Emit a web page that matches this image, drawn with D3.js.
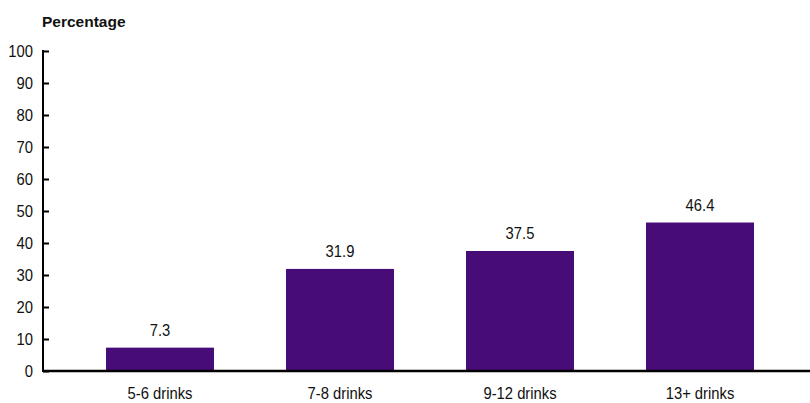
<!DOCTYPE html>
<html><head><meta charset="utf-8">
<script src="https://cdn.jsdelivr.net/npm/d3@7"></script>
<style>body{margin:0;background:#fff}svg{display:block}text{font-family:"Liberation Sans",Arial,sans-serif}</style>
</head><body>
<svg id="c" width="810" height="403"></svg>
<script>
const categories = ["5-6 drinks","7-8 drinks","9-12 drinks","13+ drinks"];
const values = [7.3,31.9,37.5,46.4];
const yTicks = [0,10,20,30,40,50,60,70,80,90,100];
const yTitle = "Percentage";

const SX = 0.87, FS = 17;
const svg = d3.select("#c");
const x = d3.scaleBand().domain(categories).range([70,790]).paddingInner(0.4).paddingOuter(0.2);
const y = d3.scaleLinear().domain([0,100]).range([371,51]);

function narrow(sel, px, py){
  sel.attr("transform",(d,i)=>`translate(${px(d,i)},${py(d,i)}) scale(${SX},1)`);
}

// bars
svg.selectAll("rect.bar").data(values).join("rect")
  .attr("class","bar")
  .attr("x",(d,i)=>x(categories[i]))
  .attr("width",x.bandwidth())
  .attr("y",d=>y(d))
  .attr("height",d=>y(0)-y(d))
  .attr("fill","#470c78");

// value labels
svg.selectAll("text.val").data(values).join("text")
  .attr("class","val")
  .attr("text-anchor","middle")
  .attr("font-size",FS)
  .attr("fill","#111")
  .text(d=>d.toFixed(1))
  .call(narrow,(d,i)=>x(categories[i])+x.bandwidth()/2,d=>y(d)-12);

// y axis
const yAxis = svg.append("g").attr("transform","translate(43,0)")
  .call(d3.axisRight(y).tickValues(yTicks).tickSize(6).tickFormat(""));
yAxis.select(".domain").attr("stroke","#000").attr("stroke-width",2).attr("d","M0,50V372");
yAxis.selectAll(".tick line").attr("stroke","#000").attr("stroke-width",2);
svg.append("g").selectAll("text").data(yTicks).join("text")
  .attr("dy","0.36em")
  .attr("text-anchor","end").attr("font-size",FS).attr("fill","#111")
  .text(d=>d)
  .call(narrow,()=>33,d=>y(d));

// x axis
const xAxis = svg.append("g").attr("transform","translate(0,371)")
  .call(d3.axisBottom(x).tickSize(0).tickPadding(16));
xAxis.select(".domain").attr("stroke","#000").attr("stroke-width",2.5).attr("d","M43,0H810");
xAxis.selectAll("text").attr("font-size",FS).attr("fill","#111")
  .style("font-family",'"Liberation Sans",Arial,sans-serif')
  .attr("y",null).attr("dy",null)
  .attr("transform",`translate(0,28) scale(${SX},1)`);

svg.append("text").attr("x",42).attr("y",27).attr("font-size",15.5).attr("font-weight","bold")
  .attr("fill","#111").text(yTitle);
</script>
</body></html>
